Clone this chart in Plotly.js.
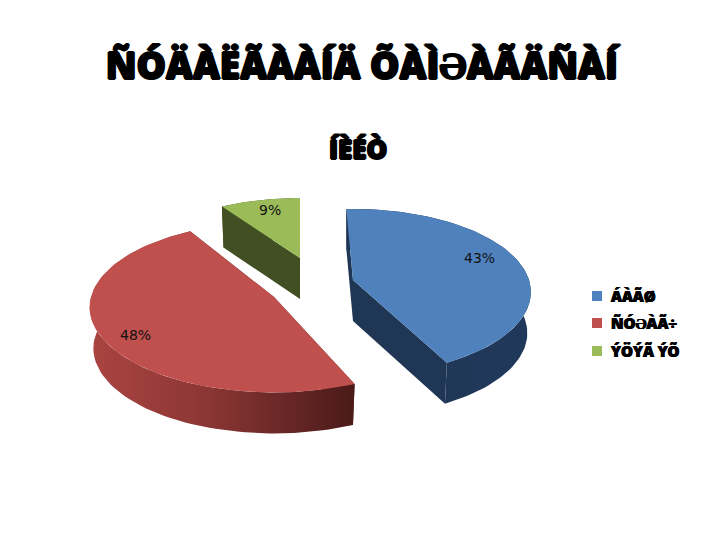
<!DOCTYPE html>
<html><head><meta charset="utf-8">
<script src="https://cdn.plot.ly/plotly-3.0.0.min.js"></script>
<style>html,body{margin:0;padding:0;background:#fff}</style></head>
<body><div id="chart" style="width:728px;height:546px"></div>
<script>
const categories = ["ÁÀÃØ", "ÑÓƏÀÃ÷", "ÝÖÝÃ ÝÕ"];
const values = [43, 48, 9];
const chartTitle = "ÑÓÄÀËÃÀÀÍÄ ÕÀÌƏÀÃÄÑÀÍ";
const subTitle = "ÍÈÉÒ";
const topColors = ["#4f81bd", "#c0504d", "#9bbb59"];
const cutColors = ["#1f3654", "#5a1f1d", "#414f23"];
const wallScales = [
  [[0, "#1f3654"], [1, "#20385a"]],
  [[0, "#ab4441"], [0.45, "#8a3634"], [1, "#4a1a19"]],
  [[0, "#414f23"], [1, "#414f23"]]
];
// projection of each exploded wedge: apex, radii, perspective, start rotation, squeeze
const geom = [
  {ax: 353, ay: 280, rx: 176, ry: 81.4, p: 0.145, rot: -2.5, e: 1},
  {ax: 274, ay: 297, rx: 183, ry: 84, p: 0.12, rot: -3, e: 1.25},
  {ax: 300, ay: 258, rx: 158, ry: 66, p: 0.1, rot: 0, e: 1}
];
const depth = 41;
const shrink = 0.98;
const labelPos = [[479, 258], [135, 335], [270, 210]];
const legendX = 597, legendY = [296, 323, 351];

function pt(g, deg) {
  const t = deg * Math.PI / 180, s = Math.sin(t), c = Math.cos(t);
  const w0 = Math.pow(Math.abs(s), g.e);
  const cw = Math.sign(c) * Math.sqrt(1 - w0 * w0);
  const w = 1 + g.p * cw;
  return [g.ax + g.rx * Math.sign(s) * w0 / w, g.ay - g.ry * cw / w];
}
const traces = [];
function poly(pts, color, grad) {
  const t = {x: pts.map(p => p[0]), y: pts.map(p => p[1]), mode: "lines", fill: "toself",
    line: {width: 0, color: color}, fillcolor: color, showlegend: false, hoverinfo: "skip"};
  if (grad) t.fillgradient = {type: "horizontal", colorscale: grad};
  traces.push(t);
}
const total = values.reduce((a, b) => a + b, 0);
let cum = 0;
const wedges = values.map((v, i) => {
  const a0 = cum / total * 360 + geom[i].rot, a1 = (cum + v) / total * 360 + geom[i].rot;
  cum += v;
  const arc = [];
  for (let k = 0; k <= 90; k++) arc.push(a0 + (a1 - a0) * k / 90);
  return {a0, a1, arc};
});
// back to front: green, blue, red
[2, 0, 1].forEach(i => {
  const g = geom[i], w = wedges[i];
  const down = p => [g.ax + (p[0] - g.ax) * shrink, p[1] + depth];
  const arcPts = w.arc.map(a => pt(g, a));
  const apex = [g.ax, g.ay];
  poly([arcPts[0], apex, down(apex), down(arcPts[0])], cutColors[i]);
  const last = arcPts[arcPts.length - 1];
  poly([last, apex, down(apex), down(last)], cutColors[i]);
  poly(arcPts.concat(arcPts.slice().reverse().map(down)), cutColors[i], wallScales[i]);
  poly([apex].concat(arcPts), topColors[i]);
});
categories.forEach((c, i) => traces.push({x: [legendX], y: [legendY[i]], mode: "markers", name: c,
  marker: {symbol: "square", size: 10, color: topColors[i]}, showlegend: false, hoverinfo: "skip"}));

const heavy = {family: "Open Sans", weight: 800, color: "#000"};
const thick = "1px 0 #000,-1px 0 #000,0 1px #000,0 -1px #000";
const layout = {
  width: 728, height: 546, margin: {l: 0, r: 0, t: 0, b: 0},
  paper_bgcolor: "#fff", plot_bgcolor: "#fff",
  title: {text: chartTitle, x: 0.497, xanchor: "center", y: 0.879, yanchor: "middle",
    font: Object.assign({size: 37, shadow: thick}, heavy)},
  xaxis: {range: [0, 728], visible: false, fixedrange: true},
  yaxis: {range: [546, 0], visible: false, fixedrange: true},
  showlegend: false,
  annotations: values.map((v, i) => ({x: labelPos[i][0], y: labelPos[i][1], xref: "x", yref: "y",
      text: Math.round(v / total * 100) + "%", showarrow: false,
      font: {family: "DejaVu Sans", size: 14, color: "#111"}}))
    .concat([{x: 358, y: 149, xref: "x", yref: "y", text: subTitle, showarrow: false,
      font: Object.assign({size: 26, shadow: thick}, heavy)}])
    .concat(categories.map((c, i) => ({x: legendX + 12, y: legendY[i], xref: "x", yref: "y", xanchor: "left",
      text: c, showarrow: false, font: Object.assign({size: 15, shadow: "0.5px 0 #000,-0.5px 0 #000"}, heavy)})))
};
Plotly.newPlot("chart", traces, layout, {displayModeBar: false, staticPlot: true});
</script></body></html>
